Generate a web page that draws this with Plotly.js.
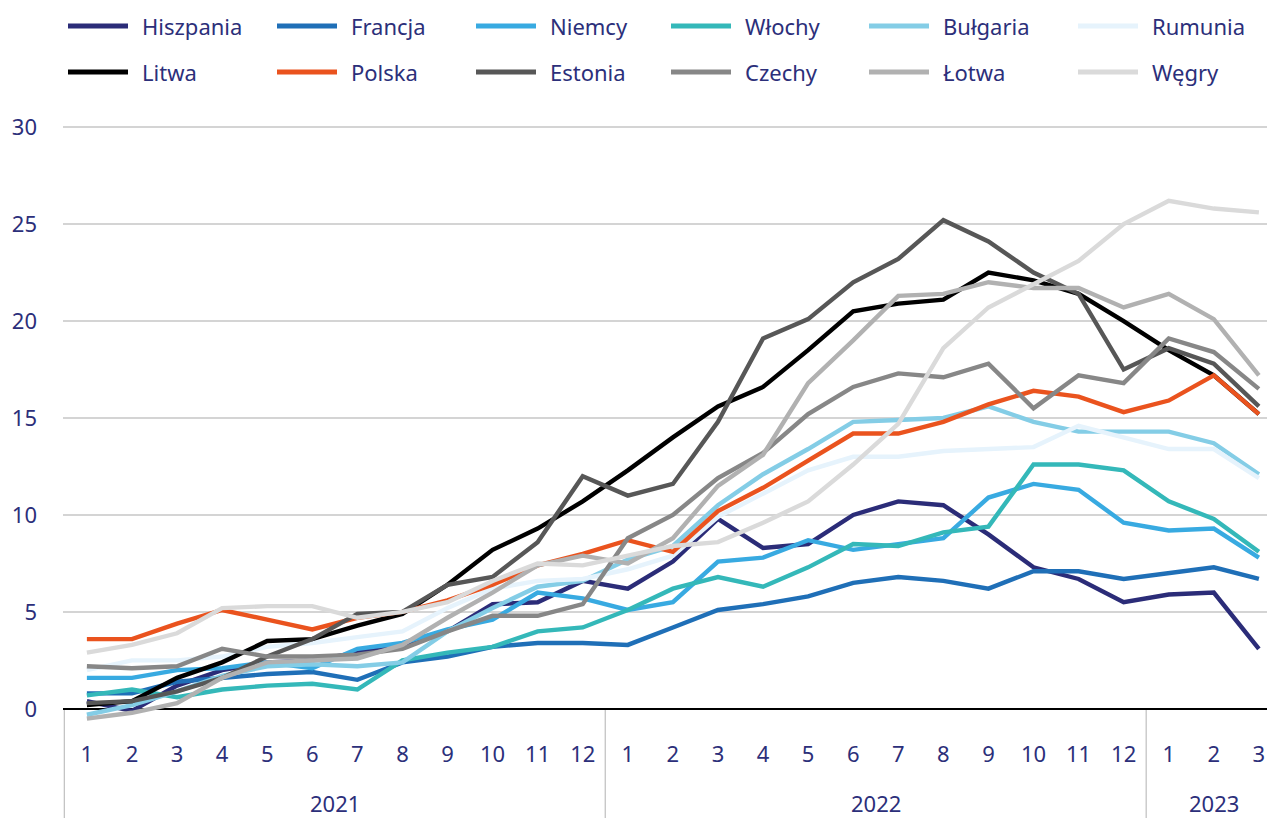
<!DOCTYPE html>
<html>
<head>
<meta charset="utf-8">
<script src="https://cdn.plot.ly/plotly-3.0.1.min.js"></script>
<style>
  html, body { margin: 0; padding: 0; background: #ffffff; }
  #chart { width: 1267px; height: 818px; }
</style>
</head>
<body>
<div id="chart"></div>
<script>
// ---------------- DATA ----------------
const years  = ['2021','2021','2021','2021','2021','2021','2021','2021','2021','2021','2021','2021',
                '2022','2022','2022','2022','2022','2022','2022','2022','2022','2022','2022','2022',
                '2023','2023','2023'];
const months = ['1','2','3','4','5','6','7','8','9','10','11','12',
                '1','2','3','4','5','6','7','8','9','10','11','12',
                '1','2','3'];

const seriesNames = ['Hiszpania','Francja','Niemcy','Włochy','Bułgaria','Rumunia',
                     'Litwa','Polska','Estonia','Czechy','Łotwa','Węgry'];

const hiszpania = [0.4,-0.1,1.2,2.0,2.4,2.5,2.9,3.3,4.0,5.4,5.5,6.6, 6.2,7.6,9.8,8.3,8.5,10.0,10.7,10.5,9.0,7.3,6.7,5.5, 5.9,6.0,3.1];
const francja   = [0.8,0.8,1.4,1.6,1.8,1.9,1.5,2.4,2.7,3.2,3.4,3.4, 3.3,4.2,5.1,5.4,5.8,6.5,6.8,6.6,6.2,7.1,7.1,6.7, 7.0,7.3,6.7];
const niemcy    = [1.6,1.6,2.0,2.1,2.4,2.1,3.1,3.4,4.1,4.6,6.0,5.7, 5.1,5.5,7.6,7.8,8.7,8.2,8.5,8.8,10.9,11.6,11.3,9.6, 9.2,9.3,7.8];
const wlochy    = [0.7,1.0,0.6,1.0,1.2,1.3,1.0,2.5,2.9,3.2,4.0,4.2, 5.1,6.2,6.8,6.3,7.3,8.5,8.4,9.1,9.4,12.6,12.6,12.3, 10.7,9.8,8.1];
const bulgaria  = [-0.3,0.2,0.9,1.7,2.2,2.3,2.2,2.4,4.0,5.2,6.3,6.6, 7.7,8.4,10.5,12.1,13.4,14.8,14.9,15.0,15.6,14.8,14.3,14.3, 14.3,13.7,12.1];
const rumunia   = [2.0,2.5,2.5,2.7,3.2,3.4,3.7,4.0,5.2,6.2,6.6,6.7, 7.2,7.9,9.9,11.1,12.3,13.0,13.0,13.3,13.4,13.5,14.6,14.0, 13.4,13.4,11.9];
const litwa     = [0.2,0.4,1.6,2.4,3.5,3.6,4.3,4.9,6.4,8.2,9.3,10.7, 12.3,14.0,15.6,16.6,18.5,20.5,20.9,21.1,22.5,22.1,21.4,20.0, 18.5,17.2,15.2];
const polska    = [3.6,3.6,4.4,5.1,4.6,4.1,4.7,5.0,5.6,6.4,7.4,8.0, 8.7,8.1,10.2,11.4,12.8,14.2,14.2,14.8,15.7,16.4,16.1,15.3, 15.9,17.2,15.2];
const estonia   = [0.3,0.4,0.9,1.6,2.7,3.6,4.9,5.0,6.4,6.8,8.6,12.0, 11.0,11.6,14.8,19.1,20.1,22.0,23.2,25.2,24.1,22.5,21.4,17.5, 18.6,17.8,15.6];
const czechy    = [2.2,2.1,2.2,3.1,2.7,2.7,2.8,3.1,4.0,4.8,4.8,5.4, 8.8,10.0,11.9,13.2,15.2,16.6,17.3,17.1,17.8,15.5,17.2,16.8, 19.1,18.4,16.5];
const lotwa     = [-0.5,-0.2,0.3,1.6,2.4,2.5,2.6,3.3,4.7,6.0,7.4,7.9, 7.5,8.8,11.5,13.1,16.8,19.0,21.3,21.4,22.0,21.7,21.7,20.7, 21.4,20.1,17.2];
const wegry     = [2.9,3.3,3.9,5.2,5.3,5.3,4.7,5.0,5.5,6.6,7.5,7.4, 7.9,8.4,8.6,9.6,10.7,12.6,14.7,18.6,20.7,21.9,23.1,25.0, 26.2,25.8,25.6];

const yTickVals = [0,5,10,15,20,25,30];

// ---------------- STYLE ----------------
const seriesValues = [hiszpania,francja,niemcy,wlochy,bulgaria,rumunia,litwa,polska,estonia,czechy,lotwa,wegry];
const seriesColors = ['#2b2c78','#1f6fb7','#38aae1','#34b8b9','#84cde6','#e6f3fc',
                      '#000000','#ea531e','#575757','#878787','#b1b1b1','#dadada'];

const FONT = '"Noto Sans", "Open Sans", sans-serif';
const NAVY = '#2c2f7a';
const FS = 22;
const W = 1267, H = 818;
const M = {l: 63, r: 0, t: 98, b: 80};
const plotW = W - M.l - M.r, plotH = H - M.t - M.b;
const Y_MIN = -1.5, Y_MAX = 31.5;
const X_MIN = -0.53, X_MAX = 26.18;

const legendCols = [68, 277, 476, 671, 869, 1078];   // px, line start
const legendRows = [26, 72];                          // px, center
const legendLine = 60, legendGap = 12;
const yearLabelCenter = 803;                          // px from top

const xIdx = months.map((m, i) => i);

// ---------------- TRACES ----------------
const traces = seriesNames.map((name, k) => ({
  type: 'scatter', mode: 'lines', name: name,
  x: xIdx, y: seriesValues[k],
  line: {color: seriesColors[k], width: 4.4},
  connectgaps: false, hoverinfo: 'skip', showlegend: false
}));

// ---------------- AXIS DECOR ----------------
const shapes = [];
const annotations = [];
const y0Paper = (0 - Y_MIN) / (Y_MAX - Y_MIN);
const yBottomPaper = -M.b / plotH;

// group boundaries & year labels
const groups = [];
years.forEach((y, i) => {
  if (i === 0 || y !== years[i - 1]) groups.push({year: y, start: i, end: i});
  else groups[groups.length - 1].end = i;
});
groups.forEach(g => {
  shapes.push({type: 'line', xref: 'x', yref: 'paper', x0: g.start - 0.5, x1: g.start - 0.5,
               y0: y0Paper, y1: yBottomPaper, line: {color: '#c4c4c4', width: 1.3}, layer: 'below'});
  annotations.push({xref: 'x', yref: 'paper', x: (g.start + g.end) / 2,
                    y: (H - M.b - yearLabelCenter) / plotH,
                    yanchor: 'middle', xanchor: 'center', showarrow: false, text: g.year,
                    font: {family: FONT, size: FS, color: NAVY}});
});

// legend (manual, 2 rows x 6 columns)
seriesNames.forEach((name, k) => {
  const col = k % 6, row = Math.floor(k / 6);
  const px = legendCols[col], py = legendRows[row];
  const yp = (H - M.b - py) / plotH;
  shapes.push({type: 'line', xref: 'paper', yref: 'paper',
               x0: (px - M.l) / plotW, x1: (px + legendLine - M.l) / plotW, y0: yp, y1: yp,
               line: {color: seriesColors[k], width: 5}});
  annotations.push({xref: 'paper', yref: 'paper', x: (px + legendLine + legendGap - M.l) / plotW, y: yp,
                    xanchor: 'left', yanchor: 'middle', showarrow: false, text: name,
                    font: {family: FONT, size: FS, color: NAVY}});
});

const layout = {
  width: W, height: H,
  margin: M,
  paper_bgcolor: '#ffffff', plot_bgcolor: '#ffffff',
  font: {family: FONT, size: FS, color: NAVY},
  showlegend: false,
  hovermode: false,
  xaxis: {
    type: 'linear', range: [X_MIN, X_MAX],
    tickmode: 'array', tickvals: xIdx, ticktext: months,
    showgrid: false, zeroline: false, showline: false,
    ticks: '', ticklabelstandoff: 1,
    tickfont: {family: FONT, size: FS, color: NAVY},
    fixedrange: true
  },
  yaxis: {
    range: [Y_MIN, Y_MAX],
    tickmode: 'array', tickvals: yTickVals, ticktext: yTickVals.map(String),
    showgrid: true, gridcolor: '#d4d4d4', gridwidth: 1.5,
    zeroline: true, zerolinecolor: '#000000', zerolinewidth: 2.5,
    showline: false, ticks: '', ticklabelstandoff: 25,
    tickfont: {family: FONT, size: FS, color: NAVY},
    fixedrange: true
  },
  shapes: shapes,
  annotations: annotations
};

Plotly.newPlot('chart', traces, layout, {displayModeBar: false, staticPlot: true});
</script>
</body>
</html>
